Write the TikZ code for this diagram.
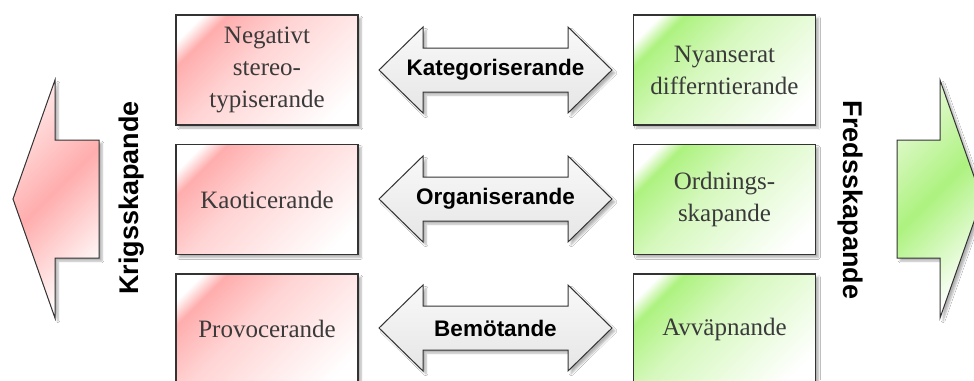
\documentclass[tikz,border=0pt]{standalone}
\usepackage{fontspec}
\setmainfont{Liberation Serif}
\setsansfont{Liberation Sans}
\usetikzlibrary{shadows.blur}
\definecolor{rband}{HTML}{FFADAD}
\definecolor{rmid}{HTML}{FFD4D4}
\definecolor{rlight}{HTML}{FFE4E4}
\definecolor{gband}{HTML}{ADF27F}
\definecolor{gmid}{HTML}{D6F8BE}
\definecolor{glight}{HTML}{E2F9D0}
\definecolor{txtgray}{HTML}{3A3A3A}
\definecolor{edgegray}{HTML}{333333}
\pgfdeclareverticalshading{redsh}{100bp}{color(0bp)=(white); color(22bp)=(white); color(56bp)=(rmid); color(73bp)=(rband); color(79bp)=(white); color(100bp)=(white)}
\pgfdeclareverticalshading{greensh}{100bp}{color(0bp)=(white); color(22bp)=(white); color(56bp)=(gmid); color(73bp)=(gband); color(79bp)=(white); color(100bp)=(white)}
\pgfdeclareverticalshading{redarr}{100bp}{color(0bp)=(white); color(25bp)=(white); color(52bp)=(rband); color(75bp)=(rlight); color(100bp)=(rlight)}
\pgfdeclareverticalshading{greenarr}{100bp}{color(0bp)=(white); color(25bp)=(white); color(52bp)=(gband); color(75bp)=(glight); color(100bp)=(glight)}
\tikzset{
  softshadow/.style={blur shadow={shadow xshift=3pt, shadow yshift=-3pt, shadow blur steps=6, shadow opacity=30}},
  catbox/.style={draw=edgegray, line width=1.3pt, minimum width=182pt, minimum height=110pt,
    inner sep=0pt, align=center, text=txtgray, font=\fontsize{25}{32}\selectfont, softshadow},
  redbox/.style={catbox, shading=redsh, shading angle=45},
  greenbox/.style={catbox, shading=greensh, shading angle=45},
  bigarrow/.style={draw=edgegray, line width=1pt, softshadow},
  dblarrow/.style={draw=edgegray, line width=1pt, top color=gray!5, bottom color=gray!20, softshadow},
  arrlabel/.style={font=\sffamily\bfseries\fontsize{22.5}{26}\selectfont, text=black, inner sep=0pt},
  sidelabel/.style={font=\sffamily\bfseries\fontsize{27}{30}\selectfont, text=black, inner sep=0pt},
}
\begin{document}
\begin{tikzpicture}[x=1pt,y=-1pt]
\path[use as bounding box, clip] (0,0) rectangle (974,380);
\fill[white] (0,0) rectangle (974,380);

% big side arrows
\path[bigarrow, shading=redarr, shading angle=45]
  (13,199) -- (55,80) -- (55,140) -- (99,140) -- (99,258) -- (55,258) -- (55,318) -- cycle;
\path[bigarrow, shading=greenarr, shading angle=45]
  (982,199) -- (940,80) -- (940,140) -- (897,140) -- (897,258) -- (940,258) -- (940,318) -- cycle;

\node[sidelabel, rotate=90] (krig) at (132,198) {Krigsskapande};
\node[sidelabel, rotate=-90] (fred) at (850,200) {Fredsskapande};

% red boxes
\node[redbox] (r1) at (267,70) {Negativt\\stereo-\\typiserande};
\node[redbox] (r2) at (267,199.5) {Kaoticerande};
\node[redbox] (r3) at (267,329) {Provocerande};

% green boxes
\node[greenbox] (g1) at (724.5,70) {Nyanserat\\differntierande};
\node[greenbox] (g2) at (724.5,199.5) {Ordnings-\\skapande};
\node[greenbox] (g3) at (724.5,329) {Avväpnande};

% double arrows
\foreach \cy/\lbl/\nm in {70/Kategoriserande/a1, 199/Organiserande/a2, 328/Bemötande/a3}{
  \path[dblarrow] (379,\cy) -- (423,\cy-43) -- (423,\cy-22) -- (568,\cy-22) -- (568,\cy-43)
    -- (612,\cy) -- (568,\cy+43) -- (568,\cy+22) -- (423,\cy+22) -- (423,\cy+43) -- cycle;
  \node[arrlabel] (\nm) at (495.5,\cy) {\lbl};
}
\end{tikzpicture}
\end{document}
